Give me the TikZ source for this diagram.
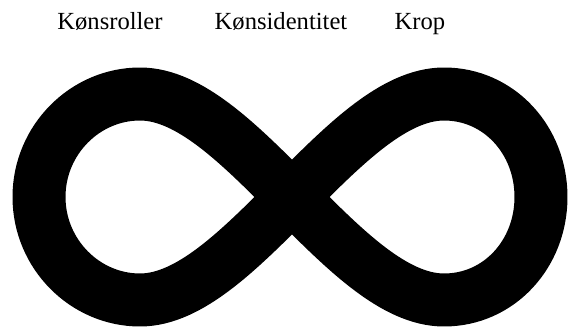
\documentclass[tikz,border=0pt]{standalone}
\usepackage{fontspec}
\setmainfont{Liberation Serif}
\usetikzlibrary{positioning}

\tikzset{
  toptext/.style={anchor=base, inner sep=0pt, font=\fontsize{14}{16}\selectfont},
  loopline/.style={line width=1.06cm, line join=round}
}

\begin{document}
\begin{tikzpicture}[x=0.02cm, y=-0.02cm]
\useasboundingbox (0,0) rectangle (569,331);

\node[toptext] (roller) at (110,30) {Kønsroller};
\node[toptext] (identitet) at (281,30) {Kønsidentitet};
\node[toptext] (krop) at (420,30) {Krop};

% the infinity sign
\coordinate (X) at (292,197);
\draw[loopline] (X)
  .. controls (240,145) and (190,94) .. (140,94)
  .. controls (85,94) and (39,140) .. (39,197)
  .. controls (39,254) and (85,300) .. (140,300)
  .. controls (190,300) and (240,249) .. (X)
  .. controls (344,145) and (394,94) .. (444,94)
  .. controls (499,94) and (541,140) .. (541,197)
  .. controls (541,254) and (499,300) .. (444,300)
  .. controls (394,300) and (344,249) .. (X) -- cycle;
\end{tikzpicture}
\end{document}
